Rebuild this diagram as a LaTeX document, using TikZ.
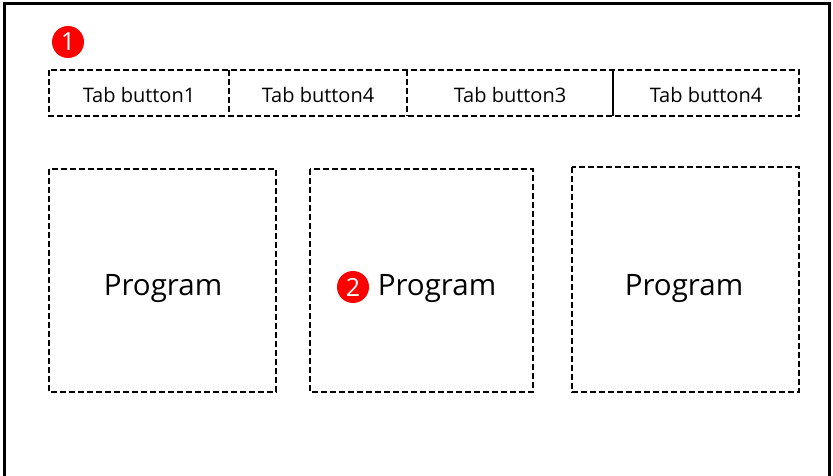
\documentclass[tikz,border=0pt]{standalone}
\usepackage{fontspec}
\setmainfont{Open Sans}
\begin{document}
\begin{tikzpicture}[x=1pt,y=-1pt,
  dbox/.style={draw=black,line width=2.2pt,dash pattern=on 6pt off 3pt},
  tabtxt/.style={font=\fontsize{20}{22}\selectfont},
  progtxt/.style={font=\fontsize{29.5}{32}\selectfont},
  badge/.style={circle,fill=red,text=white,inner sep=0pt,minimum size=32pt,font=\fontsize{25}{26}\selectfont}]
\useasboundingbox (0,0) rectangle (833,476);
\draw[line width=3pt] (4,480) -- (4,4) -- (829,4) -- (829,480);
% badge 1
\node[badge] (b1) at (68,42) {1};
% tab bar
\draw[dbox] (49,70) rectangle (799,116);
\draw[dbox] (229,70) -- (229,116);
\draw[dbox] (407,70) -- (407,116);
\draw[line width=2.2pt] (613,70) -- (613,116);
\node[tabtxt] (t1) at (139,95) {Tab button1};
\node[tabtxt] (t2) at (318,95) {Tab button4};
\node[tabtxt] (t3) at (510,95) {Tab button3};
\node[tabtxt] (t4) at (706,95) {Tab button4};
% program boxes
\draw[dbox] (49,169) rectangle (276,392);
\draw[dbox] (310,169) rectangle (533,392);
\draw[dbox] (572,167) rectangle (799,392);
\node[progtxt] (p1) at (163,289) {Program};
\node[progtxt] (p2) at (437,289) {Program};
\node[progtxt] (p3) at (684,289) {Program};
\node[badge] (b2) at (353,287) {2};
\end{tikzpicture}
\end{document}
